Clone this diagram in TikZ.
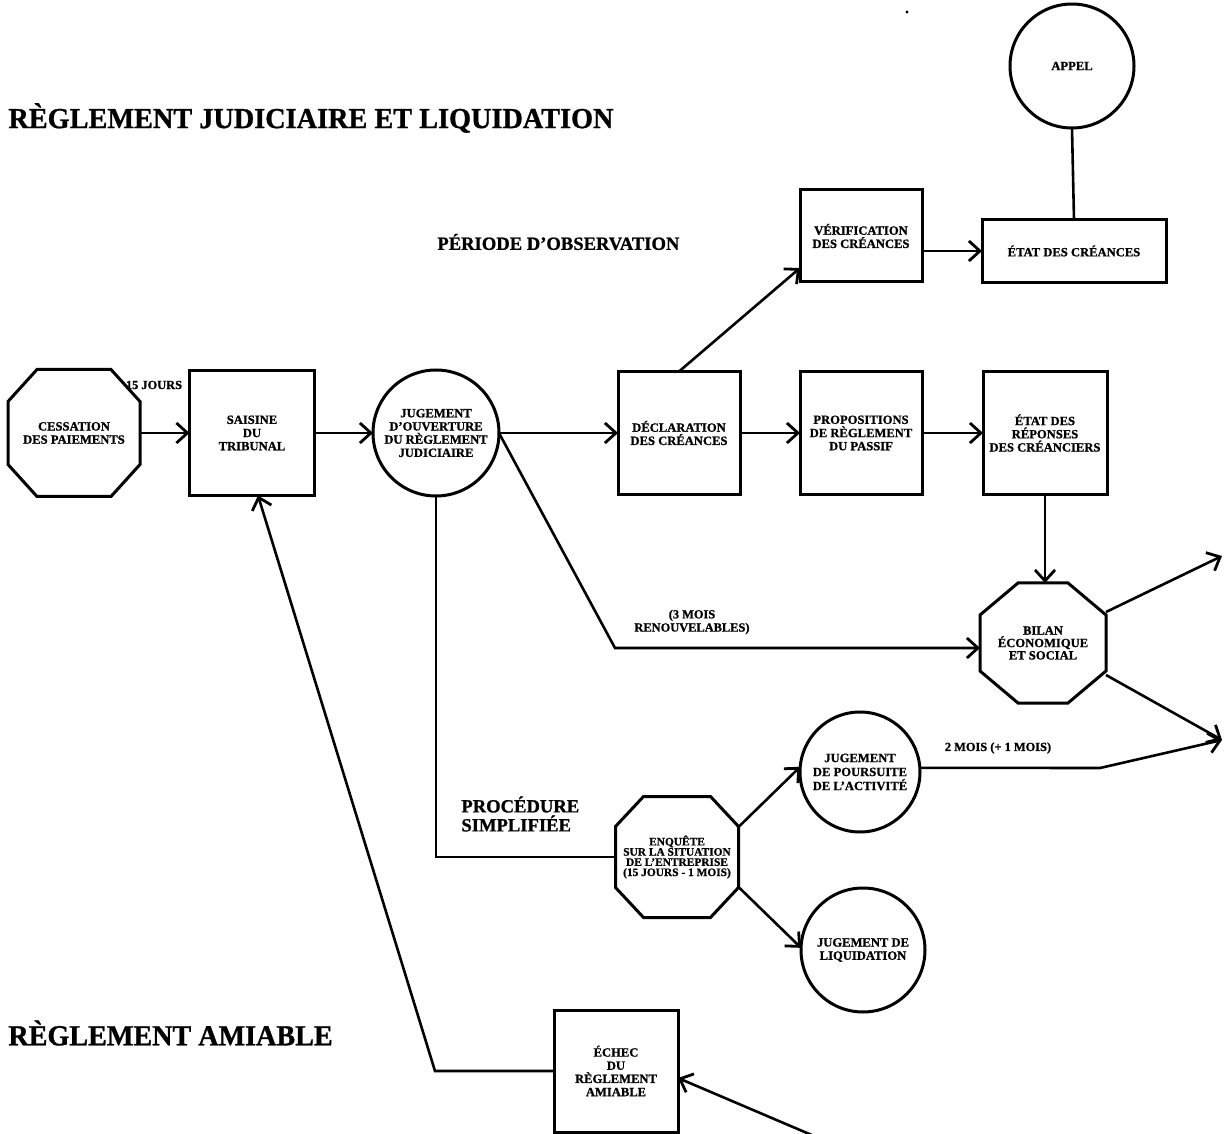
\documentclass[tikz,border=0pt]{standalone}
\usepackage{fontspec}
\setmainfont{Liberation Serif}[BoldFeatures={FakeBold=1}]
\usetikzlibrary{arrows.meta,calc}
\newcommand\nodefont{\fontsize{6.3}{6.6}\selectfont\bfseries}
\newcommand\labfont{\fontsize{6.2}{6.6}\selectfont\bfseries}
\newcommand\octagonof[3]{%
  \draw[line width=1.5pt,line join=miter]
    ([xshift=#2]#1.north west) -- ([xshift=-#2]#1.north east) --
    ([yshift=-#3]#1.north east) -- ([yshift=#3]#1.south east) --
    ([xshift=-#2]#1.south east) -- ([xshift=#2]#1.south west) --
    ([yshift=#3]#1.south west) -- ([yshift=-#3]#1.north west) -- cycle;}
\tikzset{
  box/.style={draw, line width=1.5pt, rectangle, inner sep=0pt, outer sep=0pt, align=center, font=\nodefont},
  circ/.style={draw, line width=1.5pt, circle, inner sep=0pt, outer sep=0pt, align=center, font=\nodefont},
  octa/.style={rectangle, inner sep=0pt, outer sep=0pt, align=center, font=\nodefont},
  conn/.style={line width=1.3pt},
  arr/.style={conn, -{Straight Barb[length=5.5pt,width=10pt,line width=1.4pt]}},
  lab/.style={font=\labfont, align=center, inner sep=0pt},
  bigtitle/.style={font=\fontsize{14.5}{16}\selectfont\bfseries, inner sep=0pt, anchor=west},
  midtitle/.style={font=\fontsize{9.3}{10}\selectfont\bfseries, inner sep=0pt, anchor=west, align=left},
}
\begin{document}
\begin{tikzpicture}[x=0.5pt,y=-0.5pt]
\useasboundingbox (0,0) rectangle (1228,1134);

% titles
\node[bigtitle] (t1) at (8,118) {\scalebox{0.975}[1]{RÈGLEMENT JUDICIAIRE ET LIQUIDATION}};
\node[bigtitle] (t2) at (8,1033) {\scalebox{0.97}[1]{RÈGLEMENT AMIABLE}};
\node[midtitle] (t3) at (437,242) {PÉRIODE D'OBSERVATION};
\node[midtitle, font=\fontsize{9.3}{9.5}\selectfont\bfseries] (t4) at (461,814) {PROCÉDURE\\SIMPLIFIÉE};

% nodes
\node[octa, minimum width=66pt, minimum height=63.5pt] (cess) at (74,433) {CESSATION\\DES PAIEMENTS};
\octagonof{cess}{14.5pt}{16pt}
\node[box, minimum width=62.5pt, minimum height=62.5pt] (saisine) at (252,433) {SAISINE\\DU\\TRIBUNAL};
\node[circ, minimum size=63pt] (jugo) at (436,433) {JUGEMENT\\D'OUVERTURE\\DU RÈGLEMENT\\JUDICIAIRE};
\node[box, minimum width=61pt, minimum height=61.5pt] (decl) at (679,433) {DÉCLARATION\\DES CRÉANCES};
\node[box, minimum width=61pt, minimum height=61.5pt] (prop) at (861,433) {PROPOSITIONS\\DE RÈGLEMENT\\DU PASSIF};
\node[box, minimum width=62pt, minimum height=61.5pt] (etatrep) at (1045,433) {ÉTAT DES\\RÉPONSES\\DES CRÉANCIERS};
\node[box, minimum width=61pt, minimum height=46pt] (verif) at (861,236) {VÉRIFICATION\\DES CRÉANCES};
\node[box, minimum width=92pt, minimum height=31.5pt] (etatcr) at (1074,251) {ÉTAT DES CRÉANCES};
\node[circ, minimum size=62pt] (appel) at (1072,66) {APPEL};
\node[octa, minimum width=63pt, minimum height=60pt, font=\fontsize{6.3}{6.2}\selectfont\bfseries] (bilan) at (1043,643) {BILAN\\ÉCONOMIQUE\\ET SOCIAL};
\octagonof{bilan}{19pt}{16pt}
\node[octa, minimum width=61.5pt, minimum height=60.5pt, font=\fontsize{5.7}{5.1}\selectfont\bfseries] (enq) at (677,857) {ENQUÊTE\\SUR LA SITUATION\\DE L'ENTREPRISE\\(15 JOURS - 1 MOIS)};
\octagonof{enq}{14pt}{15pt}
\node[circ, minimum size=60pt, font=\fontsize{6.3}{7}\selectfont\bfseries] (pours) at (860,772) {JUGEMENT\\DE POURSUITE\\DE L'ACTIVITÉ};
\node[circ, minimum size=62pt] (liquid) at (863,950) {JUGEMENT DE\\LIQUIDATION};
\node[box, minimum width=62pt, minimum height=61pt] (echec) at (616,1071) {ÉCHEC\\DU\\RÈGLEMENT\\AMIABLE};

% labels
\node[lab] (l15) at (154,385) {15 JOURS};
\node[lab] (l3m) at (692,622) {(3 MOIS\\RENOUVELABLES)};
\node[lab] (l2m) at (998,748) {2 MOIS (+ 1 MOIS)};

% coordinates
\coordinate (k1) at (615,648);
\coordinate (k2) at (1100,768);
\coordinate (k3) at (435,1071);
\coordinate (out1) at (1222,556);
\coordinate (out2) at (1222,740);
\coordinate (inam) at (814,1136);

% connectors
\draw[arr] (cess.east) -- (saisine.west);
\draw[arr] (saisine.east) -- (jugo.west);
\draw[arr] (jugo.east) -- (decl.west);
\draw[arr] (decl.east) -- (prop.west);
\draw[arr] (prop.east) -- (etatrep.west);
\draw[arr] (etatrep.south) -- (etatrep.south |- bilan.north);
\draw[arr] (decl.north) -- ([yshift=-16pt]verif.west);
\draw[arr] (verif.east |- etatcr.west) -- (etatcr.west);
\draw[conn] (etatcr.north) -- (appel.south);
\draw[arr] (jugo.east) -- (k1) -- (k1 -| bilan.west);
\draw[conn] (jugo.south) -- (jugo.south |- enq.west) -- (enq.west);
\draw[arr] ([yshift=15pt]enq.east) -- (pours.175);
\draw[arr] ([yshift=-15pt]enq.east) -- (liquid.178);
\draw[arr] (pours.4) -- (k2) -- (out2);
\draw[arr] ([yshift=15.5pt]bilan.east) -- (out1);
\draw[arr] ([yshift=-16pt]bilan.east) -- (out2);
\draw[arr] (echec.west) -- (k3) -- ([xshift=3pt]saisine.south);
\draw[arr] (inam) -- ([yshift=-3.5pt]echec.east);

% speck
\fill (907,12) circle (0.8pt);
\end{tikzpicture}
\end{document}
